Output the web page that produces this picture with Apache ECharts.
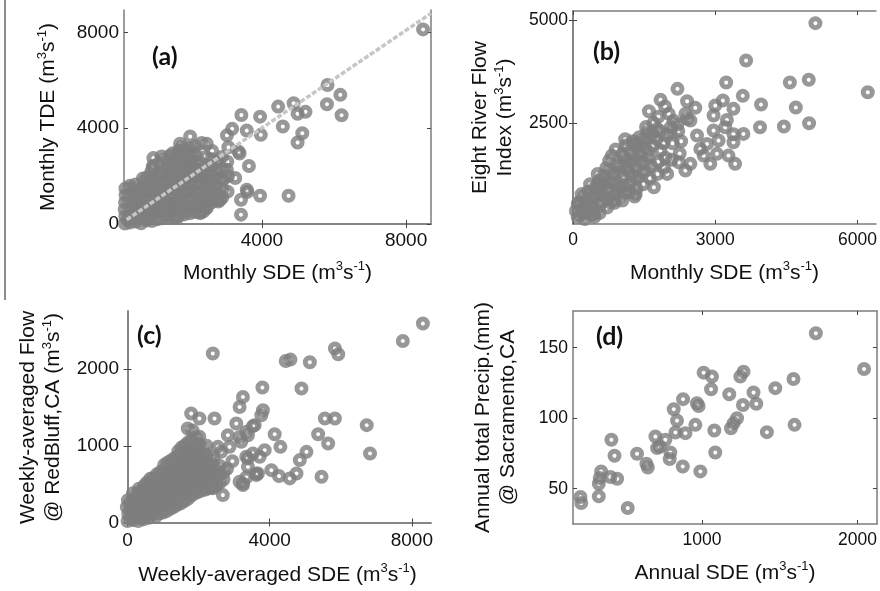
<!DOCTYPE html>
<html>
<head>
<meta charset="utf-8">
<script src="https://cdn.jsdelivr.net/npm/echarts@6/dist/echarts.min.js"></script>
<style>html,body{margin:0;padding:0;background:#fff}#c{width:880px;height:591px}</style>
</head>
<body>
<div id="c"></div>
<script>
// ---------- DATA ----------
// (a) Monthly SDE vs Monthly TDE
const pointsA = [
  [8470,8120],[5820,5800],[6175,5390],[5805,5000],[6210,4540],[4880,5040],[4990,4600],[5210,4680],
  [4450,4900],[4580,4070],[5120,3790],[4990,3400],[3950,4480],[3970,3720],[4740,1180],[3950,1180],
  [3640,2420],[3600,1340],[3420,1010],[3420,390],[3430,4550],[3580,3900],[3380,2940],[3175,3970],
  [3030,3700],[2790,940],[2380,525],[2010,3650],[990,2750],[975,2400],[1220,2820],[3350,3025],
  [3260,1920],[2930,1850],[3030,2260],[3580,1430],[2840,1010],[2470,670],[2290,460],[1640,250],
  [200,20],[210,320],[195,610],[205,900],[220,1200],[215,1480],
  [340,60],[360,350],[345,660],[355,940],[350,1250],[342,1600],
  [500,100],[510,400],[490,700],[505,1010],[515,1300],[495,1650],
  [650,30],[660,300],[640,610],[655,900],[645,1200],[665,1500],[700,1900],
  [800,150],[810,450],[790,760],[805,1050],[815,1350],[795,1650],[820,1950],
  [950,120],[960,420],[940,700],[955,1000],[945,1300],[965,1600],[950,1900],[940,2200],[990,2420],
  [1100,200],[1110,500],[1090,800],[1105,1100],[1095,1400],[1115,1700],[1100,2000],[1150,2560],
  [1250,240],[1260,550],[1240,850],[1255,1150],[1245,1450],[1265,1750],[1250,2050],[1300,2680],
  [1400,300],[1410,600],[1390,900],[1405,1200],[1395,1500],[1415,1800],[1400,2100],[1420,2400],[1450,2850],
  [1550,260],[1560,550],[1540,850],[1555,1150],[1545,1450],[1565,1750],[1550,2050],[1540,2350],[1560,2650],[1530,2950],
  [1700,350],[1710,650],[1690,950],[1705,1250],[1695,1550],[1715,1850],[1700,2150],[1690,2450],[1710,2750],[1700,3050],[1730,3350],
  [1850,400],[1860,700],[1840,1000],[1855,1300],[1845,1600],[1865,1900],[1850,2200],[1840,2500],[1860,2800],[1850,3100],
  [2000,450],[2010,750],[1990,1050],[2005,1350],[1995,1650],[2015,1950],[2000,2250],[1990,2550],[2010,2850],[2000,3150],
  [2150,500],[2160,800],[2140,1100],[2155,1400],[2145,1700],[2165,2000],[2150,2300],[2140,2600],[2160,2900],[2150,3250],
  [2300,480],[2310,750],[2290,1050],[2305,1350],[2295,1650],[2315,1950],[2300,2250],[2290,2550],[2330,3380],
  [2450,680],[2460,950],[2440,1250],[2455,1550],[2445,1850],[2465,2150],[2450,2450],[2440,2800],[2470,3350],
  [2600,900],[2610,1200],[2590,1500],[2605,1800],[2595,2100],[2615,2400],[2600,2700],[2620,3050],
  [2750,1000],[2760,1300],[2740,1600],[2755,1900],[2745,2250],[2760,2600],
  [2900,1100],[2910,1450],[2890,1850],[2905,2300],[2890,2800],
  [3050,1350],[3060,2000],[3040,2600],[3070,3200],
  [280,170],[420,800],[580,1100],[730,450],[880,1500],[1030,650],[1180,1300],[1330,2250],[1480,700],
  [1630,1950],[1780,1100],[1930,2700],[2080,1500],[2230,2100],[2380,900],[2530,1700],
  [430,1450],[580,250],[730,1750],[880,300],[1030,1850],[1180,1000],[1330,400],[1480,1650],[1630,800],
  [1780,2300],[1930,600],[2080,2400],[2230,1250],[2380,2000],[2530,1100],[1630,2900],[1780,3200],[2080,3000]
];
const fitLineA = [[250,180],[8690,8790]];

// (b) Monthly SDE vs Eight River Flow Index
const pointsB = [
  [5112,4933],[3650,4021],[3230,3484],[4573,3484],[4972,3550],[6216,3247],[3580,3159],[3965,2946],
  [4699,2873],[3944,2392],[4447,2409],[4978,2490],[3161,3044],[3384,2841],[2964,2678],[3210,2392],
  [3594,2230],[3384,2025],[3069,2067],[2895,1498],[3419,1498],[3279,1700],[3035,1742],[2755,1700],
  [3000,2922],[2964,2311],[3245,2572],[3384,2222],
  [2203,3330],[1846,3061],[1601,2783],[2406,3027],[2580,2866],[2370,2719],[2475,2556],[2020,2719],
  [2203,2458],[2063,2392],[2615,2189],[2825,1986],[2685,1864],[2475,1498],[2370,1334],[2230,1537],
  [1846,1823],[1986,1253],[1706,926],[1147,967],[866,601],[447,276],[99,520],[238,276],[552,1090],
  [762,1578],[1112,1945],[1357,2025],[1567,2270],[1776,2352],[1427,1742],[1147,1415],[1042,1742],
  [1671,2270],[2406,2598],[1322,765],[1042,601],[657,1009],
  [60,350],[120,560],[180,760],[100,200],[200,420],[250,150],[280,600],[320,820],[150,250],[450,200],
  [380,250],[400,480],[420,700],[450,900],[360,1000],
  [560,300],[580,520],[600,740],[620,960],[640,1200],[520,1250],
  [720,430],[740,650],[760,870],[700,1100],[780,1350],[820,1700],
  [880,550],[900,780],[920,1000],[860,1250],[940,1450],[900,1850],
  [1000,700],[1040,950],[1060,1200],[1020,1450],[1080,1650],[1100,2100],
  [1200,800],[1220,1050],[1180,1300],[1240,1550],[1200,1800],[1260,2050],
  [1340,900],[1360,1150],[1320,1400],[1380,1650],[1300,1950],[1400,2150],
  [1480,1000],[1500,1300],[1460,1550],[1520,1900],[1500,2100],[1540,2400],
  [1620,1150],[1650,1450],[1600,1650],[1680,1950],[1640,2150],[1700,2500],
  [1780,1250],[1800,1550],[1760,2100],[1830,2300],[1800,2650],
  [1920,1400],[1950,1650],[1900,2000],[1970,2200],[1940,2900],
  [2080,1600],[2100,2000],[2060,2250],[2120,2550],
  [2250,1750],[2280,2050],[2220,2300],
  [230,700],[350,600],[480,380],[500,800],[650,620],[680,850],[800,1050],[780,560],[950,900],[970,1300],
  [1100,800],[1120,1550],[1250,1200],[1280,1700],[1400,1300],[1420,1950],[1550,1500],[1580,1800],[1300,700],
  [150,450],[300,430],[520,1000],[700,1400]
];

// (c) Weekly-averaged SDE vs Weekly-averaged Flow @ RedBluff
const pointsC = [
  [8312,2596],[7747,2369],[5836,2270],[5929,2196],[4452,2108],[4585,2126],[5130,2091],[4895,1748],
  [3795,1761],[3247,1639],[3811,1465],[5553,1357],[5836,1357],[6731,1270],[6824,901],[5364,1152],
  [5646,1031],[5036,922],[4847,814],[5459,596],[4755,640],[4565,575],[4263,605],[4047,683],
  [4141,1152],[4302,987],[3859,944],[3577,1270],[3153,1117],[3388,1139],[3765,1400],[3718,857],
  [3624,618],[2400,2205],[1790,1422],[2024,1357],[2448,1357],[1694,1227],[3060,1292],[2823,1139],
  [2871,987],[2636,922],[2682,357],[3153,531],[3341,587],[3529,1257],[3343,1183],[2541,987],
  [3388,836],[3625,640],[3247,510],[2400,445],[3153,1508],[3200,1052],[3529,901],[3341,857],
  [3388,727],[3670,640],[3247,488],
  [0,20],[20,110],[-20,200],[10,290],
  [150,30],[160,120],[140,210],[155,300],[150,380],
  [300,20],[310,110],[290,200],[305,290],[300,380],[320,440],
  [450,40],[460,130],[440,220],[455,310],[450,400],[470,480],
  [600,60],[610,150],[590,240],[605,330],[600,420],[615,510],[640,570],
  [800,80],[810,170],[790,260],[805,350],[800,440],[815,530],[830,630],
  [1000,130],[1010,220],[990,310],[1005,400],[1000,490],[1015,580],[995,670],[1030,750],
  [1200,180],[1210,270],[1190,360],[1205,450],[1200,540],[1215,630],[1195,720],[1220,810],
  [1400,230],[1410,320],[1390,410],[1405,500],[1400,590],[1415,680],[1395,770],[1410,860],[1430,930],
  [1600,280],[1610,370],[1590,460],[1605,550],[1600,640],[1615,730],[1595,820],[1610,910],[1620,1010],
  [1800,350],[1810,440],[1790,530],[1805,620],[1800,710],[1815,800],[1795,890],[1810,980],[1800,1070],[1830,1200],
  [2000,400],[2010,490],[1990,580],[2005,670],[2000,760],[2015,850],[1995,940],[2010,1030],[2020,1120],
  [2200,430],[2210,520],[2190,610],[2205,700],[2200,790],[2215,880],[2230,1000],
  [2400,460],[2410,560],[2390,650],[2405,750],[2420,850],
  [2600,520],[2610,630],[2590,740],[2800,700],[2950,800],
  [75,60],[80,160],[70,250],[225,70],[230,165],[220,255],[235,340],[375,60],[380,155],[370,245],[385,335],[390,410],
  [525,90],[530,180],[520,270],[535,360],[530,450],[540,520],[700,110],[710,200],[690,300],[705,390],[700,480],[720,580],
  [900,120],[910,210],[890,300],[905,390],[900,480],[915,570],[925,660],[1100,150],[1110,250],[1090,340],[1105,430],
  [1100,520],[1115,610],[1100,700],[1120,780],[1300,200],[1310,300],[1290,390],[1305,480],[1300,570],[1315,660],
  [1295,750],[1320,840],[1500,250],[1510,350],[1490,440],[1505,530],[1500,620],[1515,710],[1495,800],[1510,890],
  [1520,980],[1700,310],[1710,410],[1690,500],[1705,590],[1700,680],[1715,770],[1695,860],[1710,950],[1720,1050],
  [1900,380],[1910,470],[1890,560],[1905,650],[1900,740],[1915,830],[1895,920],[1910,1010],[1920,1110],
  [2100,420],[2110,510],[2090,600],[2105,690],[2100,780],[2115,870],[2120,960],[2300,450],[2310,540],[2290,630],
  [2305,720],[2320,820],[2500,480],[2510,590],[2490,690],[2700,560],[2710,660]
];

// (d) Annual SDE vs Annual total precipitation @ Sacramento
const pointsD = [
  [1732,160.2],[2042,134.9],[1010,132.3],[1064,129.5],[1267,133.0],[1246,129.5],[1058,120.5],[1175,117.0],
  [1331,118.2],[1471,121.3],[1588,127.8],[1263,109.4],[1349,110.2],[967,110.6],[978,108.7],[878,113.5],
  [818,106.4],[839,98.3],[957,95.3],[1079,91.3],[893,89.4],[829,89.9],[700,87.0],[764,84.7],
  [728,79.9],[711,78.8],[796,75.7],[792,71.0],[876,65.8],[989,62.3],[1085,75.7],[1225,100.0],
  [1203,96.5],[1186,92.9],[1417,90.1],[1595,95.3],[417,84.7],[437,73.4],[582,74.8],[642,67.7],
  [651,65.1],[351,62.3],[342,57.6],[411,58.3],[454,57.1],[336,53.5],[336,44.6],[218,44.1],
  [223,39.9],[522,36.3]
];

// axis ranges and tick labels
const rangeX = [[175,8690],[0,6390],[-100,8540],[170,2125]];
const rangeY = [[0,8930],[30,5230],[-20,2760],[25,176]];
const ticksX = [[4000,8000],[0,3000,6000],[0,4000,8000],[1000,2000]];
const ticksY = [[0,4000,8000],[2500,5000],[0,1000,2000],[50,100,150]];
const xTitles = ['Monthly SDE', 'Monthly SDE', 'Weekly-averaged SDE', 'Annual SDE'];
const yTitles = ['Monthly TDE', 'Eight River Flow\nIndex', 'Weekly-averaged Flow\n@ RedBluff,CA', 'Annual total Precip.(mm)\n@ Sacramento,CA'];
const panelLabels = ['(a)', '(b)', '(c)', '(d)'];

// ---------- LAYOUT ----------
const grids = [
  {left:124, top:10, width:307, height:214},
  {left:573, top:11, width:304, height:213},
  {left:124, top:311, width:307, height:213},
  {left:573, top:311, width:304, height:213}
];
const labelPos = [[152,57],[593,52],[137,336],[596,337]];
const tickFont = [19, 17.5, 19, 17.5];
const yNameGap = [63, 55, 58, 52];
const xNameGap = [36, 36, 38, 36];
const yUnits = [true, true, true, false];

const unit = ' (m{sup|3}s{sup|-1})';
const AX = '#7d7d7d';
const FONT = 'Liberation Sans';
const rich = {sup:{fontSize:13, verticalAlign:'top', lineHeight:13, fontFamily:FONT, color:'#111'}};
const plain = v => String(v);

const xAxes = [], yAxes = [];
for (let i = 0; i < 4; i++) {
  xAxes.push({
    type:'value', gridIndex:i, min:rangeX[i][0], max:rangeX[i][1], position:'bottom',
    name: xTitles[i] + unit, nameLocation:'middle', nameGap:xNameGap[i],
    nameTextStyle:{fontFamily:FONT, fontSize:21, color:'#111', lineHeight:26, rich:rich},
    axisLine:{show:true, lineStyle:{color:AX, width:1.5}},
    axisTick:{show:true, inside:true, length:4, customValues:ticksX[i], lineStyle:{color:'#444'}},
    axisLabel:{show:true, customValues:ticksX[i], formatter:plain, fontFamily:FONT, fontSize:tickFont[i], color:'#111', margin:7},
    splitLine:{show:false}
  });
  yAxes.push({
    type:'value', gridIndex:i, min:rangeY[i][0], max:rangeY[i][1], position:'left',
    name: yTitles[i] + (yUnits[i] ? unit : ''), nameLocation:'middle', nameGap:yNameGap[i], nameMoveOverlap:false,
    nameTextStyle:{fontFamily:FONT, fontSize:21, color:'#111', lineHeight:25, rich:rich},
    axisLine:{show:true, lineStyle:{color:AX, width:1.5}},
    axisTick:{show:true, inside:true, length:4, customValues:ticksY[i], lineStyle:{color:'#444'}},
    axisLabel:{show:true, customValues:ticksY[i], formatter:plain, fontFamily:FONT, fontSize:tickFont[i], color:'#111', margin:5},
    splitLine:{show:false}
  });
}
for (let i = 0; i < 4; i++) {
  xAxes.push({
    type:'value', gridIndex:i, min:rangeX[i][0], max:rangeX[i][1], position:'top',
    axisLine:{show:true, lineStyle:{color:AX, width:1.5}},
    axisTick:{show:true, inside:true, length:4, customValues:ticksX[i], lineStyle:{color:'#444'}},
    axisLabel:{show:false}, splitLine:{show:false}
  });
  yAxes.push({
    type:'value', gridIndex:i, min:rangeY[i][0], max:rangeY[i][1], position:'right',
    axisLine:{show:true, lineStyle:{color:AX, width:1.5}},
    axisTick:{show:true, inside:true, length:4, customValues:ticksY[i], lineStyle:{color:'#444'}},
    axisLabel:{show:false}, splitLine:{show:false}
  });
}

const ring = {color:'rgba(0,0,0,0)', borderColor:'#7e7e7e', borderWidth:5};
const allPoints = [pointsA, pointsB, pointsC, pointsD];
const series = allPoints.map((d, i) => ({
  type:'scatter', xAxisIndex:i, yAxisIndex:i, data:d, symbol:'circle', symbolSize:9,
  itemStyle:ring, clip:false, silent:true
}));
series.push({
  type:'line', xAxisIndex:0, yAxisIndex:0, data:fitLineA, showSymbol:false, symbol:'none', z:5,
  lineStyle:{color:'#c6c6c6', width:3.5, type:[5,2]}, silent:true
});

const graphics = panelLabels.map((t, i) => ({
  type:'text', x:labelPos[i][0], y:labelPos[i][1], z:10,
  style:{text:t, fontFamily:'Lato', fontWeight:'bold', fontSize:25, fill:'#111', verticalAlign:'middle', align:'left'}
}));
graphics.push({type:'line', shape:{x1:5, y1:0, x2:5, y2:300}, style:{stroke:'#666', lineWidth:1.5}});

const chart = echarts.init(document.getElementById('c'), null, {renderer:'canvas'});
chart.setOption({
  animation:false,
  backgroundColor:'#ffffff',
  grid: grids,
  xAxis: xAxes,
  yAxis: yAxes,
  series: series,
  graphic: graphics
});
</script>
</body>
</html>
